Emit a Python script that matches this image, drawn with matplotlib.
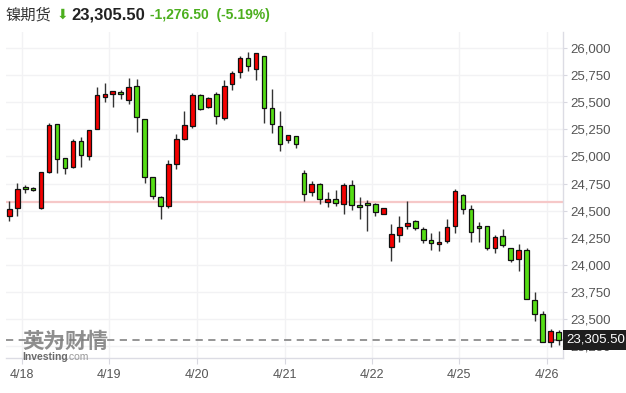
import matplotlib
matplotlib.use("Agg")
import matplotlib.pyplot as plt
from matplotlib.transforms import blended_transform_factory

plt.rcParams['font.family'] = ['Liberation Sans', 'Noto Sans CJK SC', 'DejaVu Sans']

# ---- data ----
opens = [24453, 24521, 24718, 24706, 24521, 24854, 25297, 24983, 24900, 25140,
         25007, 25251, 25547, 25578, 25593, 25519, 25648, 25343, 24810, 24622,
         24539, 24927, 25165, 25282, 25565, 25454, 25575, 25359, 25667, 25778,
         25907, 25806, 25929, 25445, 25279, 25149, 25186, 24844, 24675, 24743,
         24582, 24604, 24564, 24733, 24549, 24567, 24558, 24471, 24160, 24277,
         24354, 24401, 24327, 24225, 24188, 24216, 24354, 24641, 24511, 24355,
         24355, 24151, 24262, 24151, 24049, 24133, 23671, 23541, 23282, 23375]
highs = [24592, 24758, 24734, 24715, 24856, 25306, 25300, 24985, 25158, 25177,
         25243, 25639, 25682, 25605, 25615, 25722, 25713, 25343, 24810, 24635,
         24968, 25208, 25424, 25584, 25575, 25547, 25593, 25704, 25787, 25932,
         25963, 25955, 25929, 25621, 25420, 25195, 25186, 24872, 24770, 24758,
         24669, 24687, 24752, 24780, 24622, 24595, 24567, 24521, 24376, 24450,
         24585, 24410, 24345, 24290, 24314, 24419, 24696, 24650, 24555, 24392,
         24355, 24271, 24327, 24151, 24188, 24151, 23744, 23569, 23402, 23393]
lows = [24407, 24453, 24666, 24684, 24512, 24850, 24844, 24835, 24897, 24906,
        24964, 25251, 25507, 25461, 25534, 25482, 25223, 24752, 24604, 24419,
        24521, 24887, 25149, 25260, 25430, 25451, 25297, 25340, 25615, 25722,
        25787, 25704, 25306, 25220, 25051, 25122, 25075, 24585, 24632, 24564,
        24530, 24545, 24465, 24502, 24425, 24314, 24453, 24471, 24031, 24207,
        24333, 24321, 24197, 24133, 24123, 24197, 24290, 24465, 24207, 24207,
        24133, 24105, 24160, 24022, 23939, 23680, 23476, 23282, 23236, 23254]
closes = [24511, 24703, 24696, 24687, 24854, 25288, 24977, 24894, 25140, 25011,
          25242, 25565, 25578, 25602, 25575, 25639, 25362, 24810, 24635, 24539,
          24927, 25159, 25288, 25565, 25436, 25537, 25371, 25648, 25769, 25907,
          25836, 25953, 25445, 25300, 25112, 25195, 25112, 24656, 24743, 24610,
          24604, 24573, 24733, 24549, 24530, 24549, 24484, 24521, 24281, 24345,
          24388, 24336, 24225, 24197, 24206, 24345, 24678, 24511, 24299, 24336,
          24151, 24253, 24179, 24040, 24133, 23680, 23541, 23282, 23384, 23305.5]

date_labels = ['4/18', '4/19', '4/20', '4/21', '4/22', '4/25', '4/26']
date_positions = [1.56, 12.56, 23.54, 34.6, 45.6, 56.5, 67.5]
y_ticks = [23250, 23500, 23750, 24000, 24250, 24500, 24750, 25000, 25250, 25500, 25750, 26000]
last_price = 23305.5
prev_close = 24582.0
title_name = '镍期货'
title_price = '23,305.50'
title_change = '-1,276.50  (-5.19%)'

# ---- figure ----
W, H = 626, 393
fig = plt.figure(figsize=(W / 100, H / 100), dpi=100)
ax = fig.add_axes([6 / W, (H - 358.3) / H, (563.3 - 6) / W, (358.3 - 32) / H])

up_col = '#f50000'
dn_col = '#55dd14'
n = len(opens)
xs = list(range(n))
bottoms = [min(o, c) for o, c in zip(opens, closes)]
heights = [max(abs(c - o), 6) for o, c in zip(opens, closes)]
colors = [up_col if c >= o else dn_col for o, c in zip(opens, closes)]

ax.axhline(prev_close, color='#f6c8c8', lw=1.6, zorder=1)
ax.axhline(last_price, color='#8c8c8c', lw=1.3, ls=(0, (4, 3)), zorder=1)
ax.vlines(xs, lows, highs, color='#333333', lw=1.0, zorder=2)
ax.bar(xs, heights, bottom=bottoms, width=0.58, color=colors,
       edgecolor='#111111', linewidth=0.9, zorder=3)

ax.set_xlim(-0.415, 69.6)
ax.set_ylim(23135, 26150)

ax.set_yticks(y_ticks)
ax.set_yticklabels([f'{v:,}' for v in y_ticks])
ax.yaxis.tick_right()
ax.tick_params(axis='y', length=3, color='#d8d8e0', pad=2, labelsize=9.5, labelcolor='#555555')
ax.set_xticks(date_positions)
ax.set_xticklabels(date_labels)
ax.tick_params(axis='x', length=4, color='#d8d8e0', pad=4, labelsize=9, labelcolor='#555555')

ax.grid(True, color='#f2f2f4', lw=1.0, zorder=0)
ax.set_axisbelow(True)
for s in ['top', 'left']:
    ax.spines[s].set_visible(False)
for s in ['bottom', 'right']:
    ax.spines[s].set_color('#dcdce4')
    ax.spines[s].set_linewidth(1.0)

# current-price box
tr = blended_transform_factory(ax.transAxes, ax.transData)
ax.text(1.006, last_price, title_price, transform=tr, ha='left', va='center',
        fontsize=9.5, color='white', zorder=10, clip_on=False,
        bbox=dict(boxstyle='square,pad=0.3', facecolor='#1e1e1e', edgecolor='none'))

# watermark
fig.text(22 / W, 1 - 342 / H, '英为财情', fontsize=15.5, fontweight='bold',
         color='#7a7a7a', alpha=0.85, ha='left', va='center')
fig.text(22 / W, 1 - 357 / H, 'Investing', fontsize=7.5, fontweight='bold',
         color='#6a6a6a', ha='left', va='center')
fig.text(66 / W, 1 - 357 / H, '.com', fontsize=7.5, color='#999999', ha='left', va='center')

# title
ty = 1 - 15 / H
fig.text(5 / W, ty, title_name, fontsize=11, color='#333333', ha='left', va='center')
fig.text(57 / W, ty, '⬇', fontsize=10, color='#4caf1e', ha='left', va='center',
         family=['DejaVu Sans'])
fig.text(71 / W, ty, title_price, fontsize=12, fontweight='bold', color='#222222',
         ha='left', va='center')
fig.text(150 / W, ty, title_change, fontsize=10, fontweight='bold', color='#4caf1e',
         ha='left', va='center')

fig.savefig('out.png', dpi=100)
